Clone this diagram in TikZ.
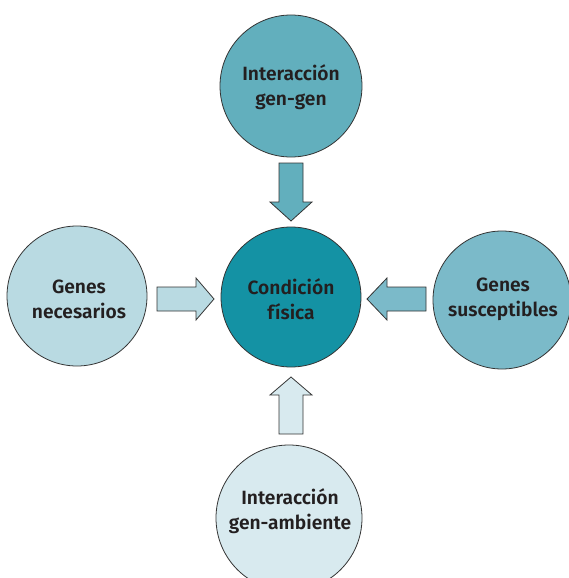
\documentclass[tikz,border=0pt]{standalone}
\usepackage{fontspec}
\setmainfont{Fira Sans}[BoldFont={Fira Sans SemiBold}]
\definecolor{cTop}{HTML}{62AFBD}
\definecolor{cLeft}{HTML}{B9DAE2}
\definecolor{cMid}{HTML}{1492A4}
\definecolor{cRight}{HTML}{7BBAC9}
\definecolor{cBot}{HTML}{D8EAEF}
\definecolor{cLine}{HTML}{333333}
\definecolor{cText}{HTML}{231F20}
\tikzset{
  bubble/.style={circle, draw=cLine, line width=0.8pt, inner sep=0pt},
  lbl/.style={align=center, text=cText, font=\fontsize{19.2}{25}\selectfont\bfseries},
  blockarr/.style={draw=cLine, line width=0.8pt, line join=miter}
}
\begin{document}
\begin{tikzpicture}[x=1pt,y=-1pt]
\useasboundingbox (0,0) rectangle (569,578);
% circles
\node[bubble, fill=cTop, minimum size=142pt] (top) at (291,86) {};
\node[bubble, fill=cLeft, minimum size=140pt] (left) at (77,296) {};
\node[bubble, fill=cMid, minimum size=140pt] (mid) at (291,297) {};
\node[bubble, fill=cRight, minimum size=138pt] (right) at (502,300) {};
\node[bubble, fill=cBot, minimum size=146pt] (bot) at (289,518) {};
% labels
\node[lbl] (ttop) at (291,87) {Interacción\\gen-gen};
\node[lbl] (tleft) at (79,299) {Genes\\necesarios};
\node[lbl] (tmid) at (291,299) {Condición\\física};
\node[lbl] (tright) at (503,299) {Genes\\susceptibles};
\node[lbl] (tbot) at (290,511) {Interacción\\gen-ambiente};
% block arrows
\draw[blockarr, fill=cTop] (279,163) -- (303,163) -- (303,202) -- (312,202) -- (291,221) -- (270,202) -- (279,202) -- cycle;
\draw[blockarr, fill=cLeft] (157,287) -- (196,287) -- (196,278) -- (214,299) -- (196,320) -- (196,311) -- (157,311) -- cycle;
\draw[blockarr, fill=cRight] (426,287) -- (387,287) -- (387,278) -- (367,299) -- (387,320) -- (387,311) -- (426,311) -- cycle;
\draw[blockarr, fill=cBot] (279,434) -- (279,395) -- (270,395) -- (291,377) -- (312,395) -- (303,395) -- (303,434) -- cycle;
\end{tikzpicture}
\end{document}
